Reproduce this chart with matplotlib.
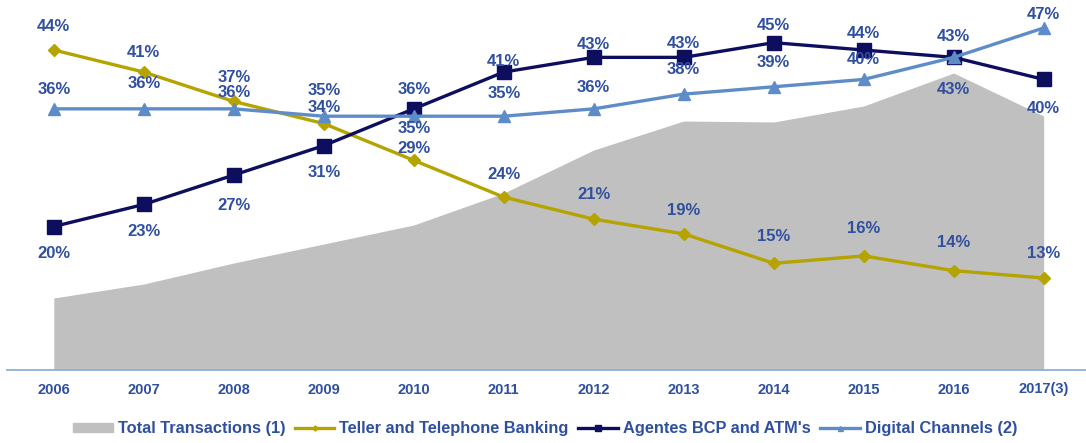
import matplotlib.pyplot as plt

plt.rcParams['font.family'] = ['Liberation Sans', 'DejaVu Sans']

years = ['2006', '2007', '2008', '2009', '2010', '2011',
         '2012', '2013', '2014', '2015', '2016', '2017(3)']

# share of transactions by channel (%)
teller = [44, 41, 37, 34, 29, 24, 21, 19, 15, 16, 14, 13]
agentes = [20, 23, 27, 31, 36, 41, 43, 43, 45, 44, 43, 40]
digital = [36, 36, 36, 35, 35, 35, 36, 38, 39, 40, 43, 47]

# total transactions, relative level (secondary scale)
total_tx = [72, 86, 107, 126, 145, 177, 220, 249, 248, 264, 297, 254]

# label offsets in pixels (positive = above the point)
teller_dy = [24, 20, 24, 16, 12, 23, 25, 23, 27, 27, 28, 24]
agentes_dy = [-27, -27, -30, -27, 19, 11, 13, 14, 17, 17, 21, -29]
digital_dy = [19, 25, 16, 26, -12, 23, 21, 25, 24, 20, -32, 13]

TXT = '#2f4f9f'
C_TELLER = '#b5a300'
C_AGENTES = '#0e0e5e'
C_DIGITAL = '#5e8cc8'
C_AREA = '#c0c0c0'

fig = plt.figure(figsize=(10.86, 4.43), dpi=100)
ax = fig.add_axes([7 / 1086, 73 / 443, 1079 / 1086, 370 / 443])
ax2 = ax.twinx()

x = list(range(len(years)))

ax2.fill_between(x, 0, total_tx, color=C_AREA, linewidth=0,
                 label='Total Transactions (1)')
ax2.set_ylim(0, 370)
ax2.axis('off')

# lines and labels sit above the grey area
ax.set_zorder(ax2.get_zorder() + 1)
ax.patch.set_visible(False)

l1, = ax.plot(x, teller, color=C_TELLER, lw=2.4, marker='D', ms=6.5,
              label='Teller and Telephone Banking')
l2, = ax.plot(x, agentes, color=C_AGENTES, lw=2.4, marker='s', ms=9.5,
              label="Agentes BCP and ATM's")
l3, = ax.plot(x, digital, color=C_DIGITAL, lw=2.4, marker='^', ms=9,
              label='Digital Channels (2)')

for vals, dys in [(teller, teller_dy), (agentes, agentes_dy), (digital, digital_dy)]:
    for xi, v, dy in zip(x, vals, dys):
        ax.annotate(f'{v}%', (xi, v), xytext=(0, dy), textcoords='offset pixels',
                    ha='center', va='center', fontsize=12, fontweight='bold',
                    color=TXT, annotation_clip=False)

ax.set_xlim(-0.52, 11.47)
ax.set_ylim(0.49, 50.8)
ax.set_xticks(x)
ax.set_xticklabels(years, fontsize=10.5, fontweight='bold', color=TXT)
ax.tick_params(axis='x', length=0, pad=9)
ax.set_yticks([])
for s in ['top', 'left', 'right']:
    ax.spines[s].set_visible(False)
ax.spines['bottom'].set_color('#8db0dc')
ax.spines['bottom'].set_linewidth(1.3)

area_handle = plt.Rectangle((0, 0), 1, 1, color=C_AREA)
leg = fig.legend([area_handle, l1, l2, l3],
                 ['Total Transactions (1)', 'Teller and Telephone Banking',
                  "Agentes BCP and ATM's", 'Digital Channels (2)'],
                 loc='center', bbox_to_anchor=(0.502, 0.032), ncol=4,
                 frameon=False, fontsize=11.8, markerscale=0.4,
                 handlelength=2.4, handleheight=0.5, handletextpad=0.3,
                 columnspacing=0.6)
for t in leg.get_texts():
    t.set_color(TXT)
    t.set_fontweight('bold')

fig.savefig('out.png', dpi=100)
